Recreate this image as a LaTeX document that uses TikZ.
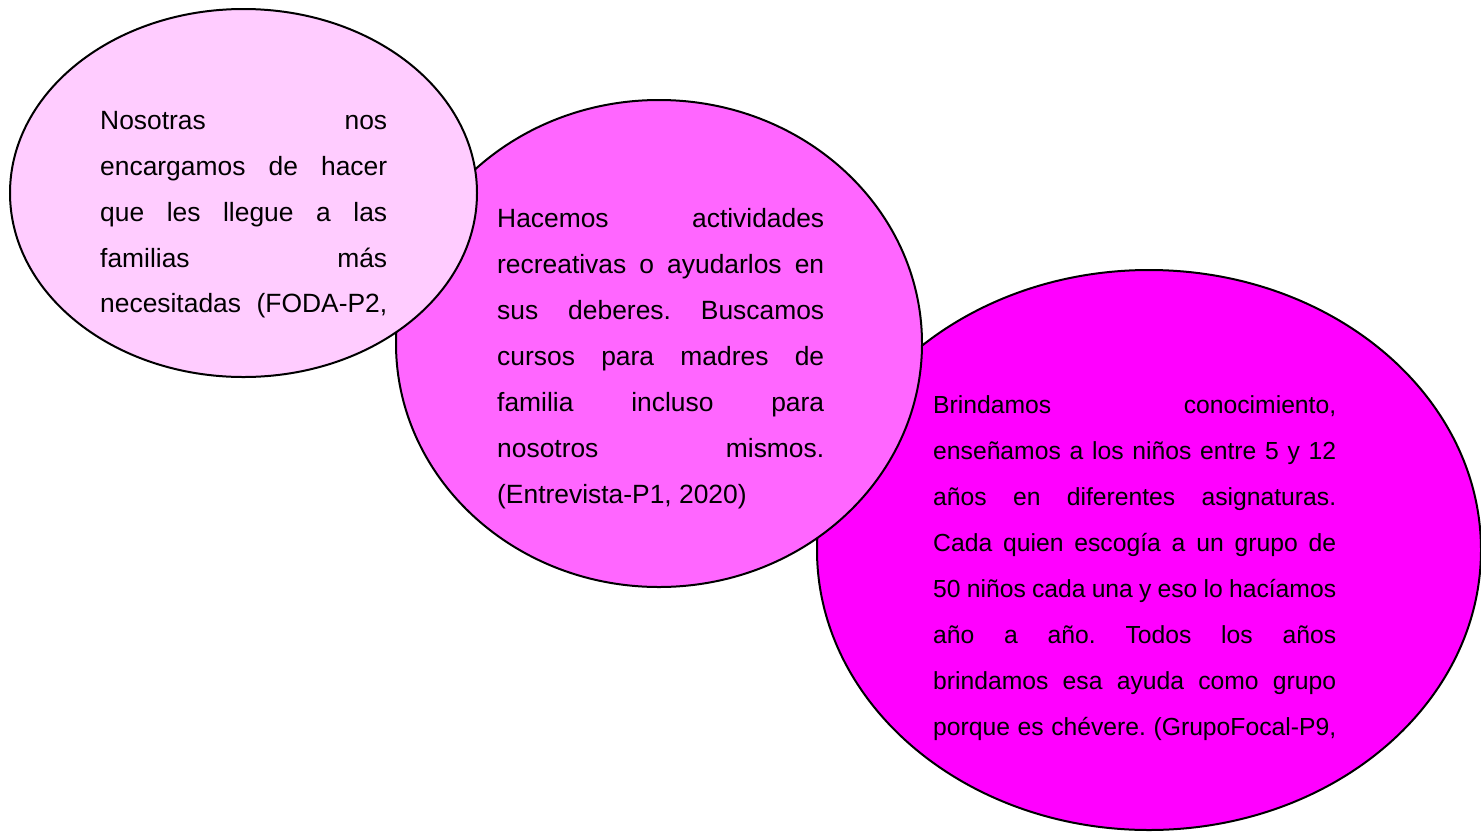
\documentclass[tikz,border=0pt]{standalone}
\usepackage{fontspec}
\setmainfont{Liberation Sans}
\usetikzlibrary{shapes.geometric}
\definecolor{pinkA}{HTML}{FFCCFF}
\definecolor{pinkB}{HTML}{FF66FF}
\definecolor{pinkC}{HTML}{FF00FF}
\newcommand\jline[2]{\makebox[#1][s]{#2}}
\frenchspacing
\begin{document}
\begin{tikzpicture}[x=1pt,y=-1pt,
  bubble/.style={ellipse, draw=black, line width=2pt, inner sep=0pt},
  ln/.style={anchor=base west, inner sep=0pt, font=\fontsize{26.4}{45.8}\selectfont},
  lnsmall/.style={anchor=base west, inner sep=0pt, font=\fontsize{24.7}{45.8}\selectfont}]
\useasboundingbox (0,0) rectangle (1481,831);
% bubbles, back to front
\node[bubble, fill=pinkC, minimum width=664pt, minimum height=560pt] (e3) at (1149,550) {};
\node[bubble, fill=pinkB, minimum width=526pt, minimum height=487pt] (e2) at (659,343.5) {};
\node[bubble, fill=pinkA, minimum width=467pt, minimum height=368pt] (e1) at (243.5,193) {};
% text of bubble 1
\node[ln] (a1) at (100,129) {\jline{287pt}{Nosotras nos}};
\node[ln] (a2) at (100,175) {\jline{287pt}{encargamos de hacer}};
\node[ln] (a3) at (100,221) {\jline{287pt}{que les llegue a las}};
\node[ln] (a4) at (100,267) {\jline{287pt}{familias más}};
\node[ln] (a5) at (100,312) {\jline{287pt}{necesitadas (FODA-P2,}};
% text of bubble 2
\node[ln] (b1) at (497,227) {\jline{327pt}{Hacemos actividades}};
\node[ln] (b2) at (497,273) {\jline{327pt}{recreativas o ayudarlos en}};
\node[ln] (b3) at (497,319) {\jline{327pt}{sus deberes. Buscamos}};
\node[ln] (b4) at (497,365) {\jline{327pt}{cursos para madres de}};
\node[ln] (b5) at (497,411) {\jline{327pt}{familia incluso para}};
\node[ln] (b6) at (497,457) {\jline{327pt}{nosotros mismos.}};
\node[ln] (b7) at (497,503) {(Entrevista-P1, 2020)};
% text of bubble 3
\node[lnsmall] (c1) at (933,413) {\jline{403pt}{Brindamos conocimiento,}};
\node[lnsmall] (c2) at (933,459) {\jline{403pt}{enseñamos a los niños entre 5 y 12}};
\node[lnsmall] (c3) at (933,505) {\jline{403pt}{años en diferentes asignaturas.}};
\node[lnsmall] (c4) at (933,551) {\jline{403pt}{Cada quien escogía a un grupo de}};
\node[lnsmall] (c5) at (933,597) {\jline{403pt}{50 niños cada una y eso lo hacíamos}};
\node[lnsmall] (c6) at (933,643) {\jline{403pt}{año a año. Todos los años}};
\node[lnsmall] (c7) at (933,689) {\jline{403pt}{brindamos esa ayuda como grupo}};
\node[lnsmall] (c8) at (933,735) {\jline{403pt}{porque es chévere. (GrupoFocal-P9,}};
\end{tikzpicture}
\end{document}
